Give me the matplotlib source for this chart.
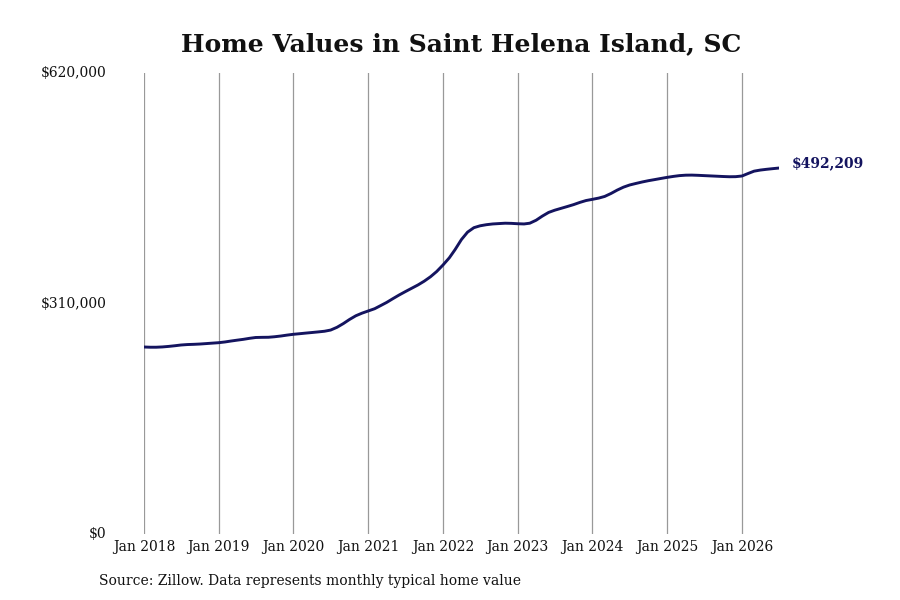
import matplotlib
matplotlib.use("Agg")
import matplotlib.pyplot as plt
import pandas as pd

# Monthly typical home value, Jan 2018 .. Jul 2026
dates = pd.date_range("2018-01-01", "2026-07-01", freq="MS")
values = [
    # 2018
    251500, 251200, 251200, 251600, 252300, 253200, 254200, 254800, 255100, 255500, 256100, 256700,
    # 2019
    257300, 258300, 259500, 260700, 261800, 263200, 264300, 264500, 264600, 265300, 266300, 267500,
    # 2020
    268600, 269400, 270200, 271000, 271800, 272700, 274300, 278000, 283000, 288500, 293500, 297000,
    # 2021
    300000, 303000, 307000, 311500, 316500, 321500, 326000, 330500, 335000, 340000, 346000, 353000,
    # 2022
    361800, 371500, 382500, 396000, 406000, 412000, 414500, 416000, 417000, 417500, 418000, 417800,
    # 2023
    417300, 417000, 418000, 422000, 427500, 432500, 435500, 438000, 440500, 443000, 446000, 448500,
    # 2024
    450100, 451800, 454000, 458000, 462500, 466500, 469400, 471500, 473500, 475200, 476700, 478200,
    # 2025
    479700, 481000, 482000, 482600, 482700, 482400, 482000, 481600, 481200, 480800, 480500, 480600,
    # 2026
    481500, 485000, 488000, 489500, 490500, 491400, 492209,
]
last_label = "$492,209"
yticks = [0, 310000, 620000]
ytick_labels = ["$0", "$310,000", "$620,000"]
xtick_years = list(range(2018, 2027))

line_color = "#14145f"

plt.rcParams["font.family"] = ["DejaVu Serif"]

fig = plt.figure(figsize=(9, 6), dpi=100)
ax = fig.add_axes([0.16, 0.11, 0.7056, 0.7683])

ax.plot(dates, values, color=line_color, linewidth=2.1, solid_capstyle="round")

ax.set_ylim(0, 620000)
ax.set_xlim(dates[0], dates[-1])
ax.set_yticks(yticks)
ax.set_yticklabels(ytick_labels)
xt = [pd.Timestamp(f"{y}-01-01") for y in xtick_years]
ax.set_xticks(xt)
ax.set_xticklabels([f"Jan {y}" for y in xtick_years])

for s in ax.spines.values():
    s.set_visible(False)
ax.tick_params(axis="both", length=0, labelsize=10, colors="#111111")
ax.tick_params(axis="y", pad=27)
ax.tick_params(axis="x", pad=4)
for lbl in ax.get_yticklabels():
    lbl.set_verticalalignment("center")

ax.grid(axis="x", color="#999999", linewidth=0.9)
ax.grid(axis="y", visible=False)
ax.set_axisbelow(True)

ax.annotate(last_label, xy=(dates[-1], values[-1]), xytext=(9.5, 3.6), textcoords="offset points",
            color=line_color, fontsize=10, fontweight="bold", va="center", ha="left")

fig.text(0.512, 0.927, "Home Values in Saint Helena Island, SC", ha="center", va="center",
         fontsize=18, fontweight="bold", color="#111111")
fig.text(0.11, 0.031, "Source: Zillow. Data represents monthly typical home value",
         ha="left", va="center", fontsize=10, color="#111111")

fig.savefig("out.png", dpi=100, facecolor="white")
